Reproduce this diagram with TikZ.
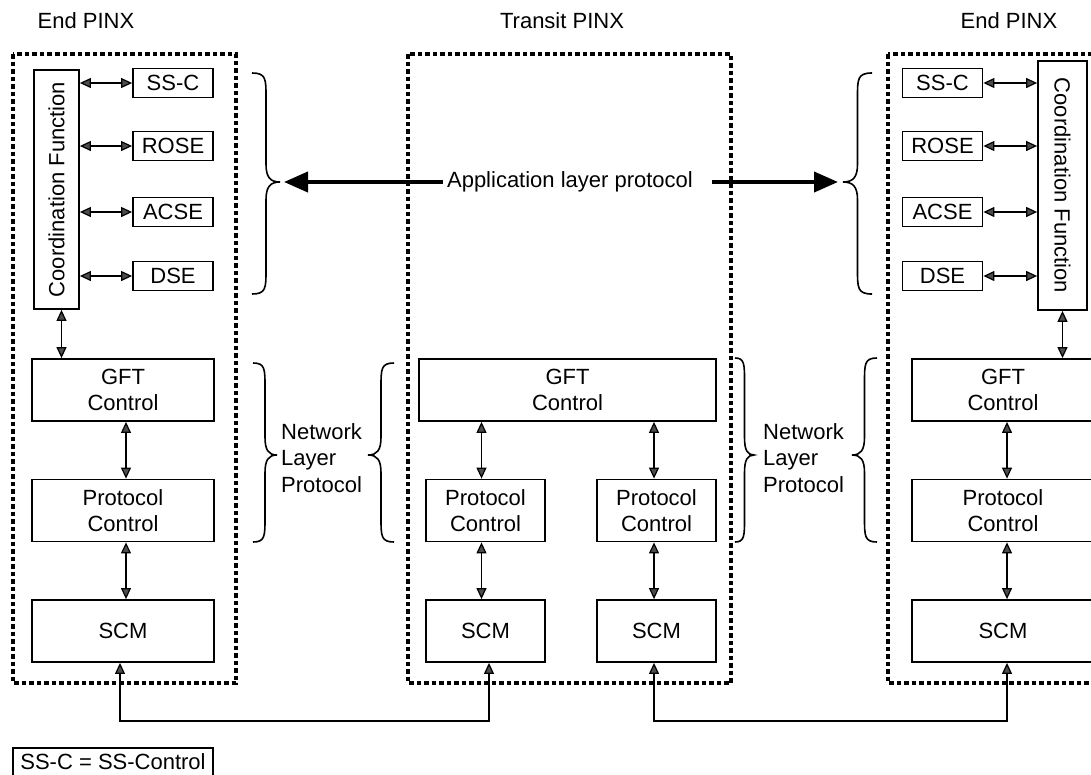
\documentclass[tikz,border=0pt]{standalone}
\usepackage{fontspec}
\setmainfont{Liberation Sans}
\usetikzlibrary{arrows.meta}
\newcommand\cbrace[5]{% #1 ends x, #2 tip x, #3 top y, #4 bottom y, #5 tip y
  \pgfmathsetmacro\bm{(#1+#2)/2}%
  \pgfmathsetmacro\bo{(#2-#1)/7}%
  \draw[bracestyle] (#1,#3) .. controls ({\bm},{#3}) and ({\bm},{#3+6}) .. ({\bm},{#3+24})
    -- ({\bm},{#5-18}) .. controls ({\bm},{#5-5}) and ({\bm+\bo},{#5}) .. (#2,#5)
    .. controls ({\bm+\bo},{#5}) and ({\bm},{#5+5}) .. ({\bm},{#5+18})
    -- ({\bm},{#4-24}) .. controls ({\bm},{#4-6}) and ({\bm},{#4}) .. (#1,#4);}
\begin{document}
\begin{tikzpicture}[x=1pt,y=-1pt,
  every node/.style={font=\fontsize{22}{26.5}\selectfont, inner sep=0pt},
  box/.style={draw, line width=1.8pt, align=center},
  small/.style={box, minimum width=80pt, minimum height=29pt},
  tall/.style={box, minimum height=62pt},
  frame/.style={line width=4.5pt, dash pattern=on 4.5pt off 3pt},
  link/.style={line width=1.8pt,
    {Triangle[length=11pt,width=10pt,fill=black!70,line width=1.2pt]}-{Triangle[length=11pt,width=10pt,fill=black!70,line width=1.2pt]}},
  bigarrow/.style={line width=4pt, -{Triangle[length=24pt,width=20pt]}},
  bracestyle/.style={line width=1.6pt}]
\useasboundingbox (0,0) rectangle (1091,774);

% frames
\draw[frame] (13,54) rectangle (236,683);
\draw[frame] (408,54) rectangle (731,683);
\draw[frame] (888,54) rectangle (1100,683);

% titles
\node (t1) at (86,21) {End PINX};
\node (t2) at (562,21) {Transit PINX};
\node (t3) at (1009,21) {End PINX};

% left end PINX
\node[box, minimum width=45pt, minimum height=239pt] (lcf) at (56.5,189.5) {\rotatebox{90}{Coordination Function}};
\node[small] (lssc) at (173,83) {SS-C};
\node[small] (lrose) at (173,146) {ROSE};
\node[small] (lacse) at (173,212) {ACSE};
\node[small] (ldse) at (173,276) {DSE};
\draw[link] (lcf.east |- lssc) -- (lssc.west);
\draw[link] (lcf.east |- lrose) -- (lrose.west);
\draw[link] (lcf.east |- lacse) -- (lacse.west);
\draw[link] (lcf.east |- ldse) -- (ldse.west);
\node[tall, minimum width=182pt] (lgft) at (123,390) {GFT\\Control};
\node[tall, minimum width=182pt] (lpc) at (123,510.5) {Protocol\\Control};
\node[tall, minimum width=182pt] (lscm) at (123,631) {SCM};
\draw[link] ([xshift=5pt]lcf.south) -- ([xshift=5pt]lcf.south |- lgft.north);
\draw[link] ([xshift=3pt]lgft.south) -- ([xshift=3pt]lpc.north);
\draw[link] ([xshift=3pt]lpc.south) -- ([xshift=3pt]lscm.north);

% transit PINX
\node[tall, minimum width=297pt] (mgft) at (567.5,390) {GFT\\Control};
\node[tall, minimum width=119pt] (mpc1) at (485.5,510.5) {Protocol\\Control};
\node[tall, minimum width=119pt] (mpc2) at (656.5,510.5) {Protocol\\Control};
\node[tall, minimum width=119pt] (mscm1) at (485.5,631) {SCM};
\node[tall, minimum width=119pt] (mscm2) at (656.5,631) {SCM};
\draw[link] ([xshift=-4pt]mpc1.north |- mgft.south) -- ([xshift=-4pt]mpc1.north);
\draw[link] ([xshift=-2.5pt]mpc2.north |- mgft.south) -- ([xshift=-2.5pt]mpc2.north);
\draw[link] ([xshift=-4pt]mpc1.south) -- ([xshift=-4pt]mscm1.north);
\draw[link] ([xshift=-2.5pt]mpc2.south) -- ([xshift=-2.5pt]mscm2.north);

% right end PINX
\node[box, minimum width=49pt, minimum height=249pt] (rcf) at (1062.5,185.5) {\rotatebox{-90}{Coordination Function}};
\node[small] (rssc) at (942.5,83) {SS-C};
\node[small] (rrose) at (942.5,146) {ROSE};
\node[small] (racse) at (942.5,212) {ACSE};
\node[small] (rdse) at (942.5,276) {DSE};
\draw[link] (rssc.east) -- (rcf.west |- rssc);
\draw[link] (rrose.east) -- (rcf.west |- rrose);
\draw[link] (racse.east) -- (rcf.west |- racse);
\draw[link] (rdse.east) -- (rcf.west |- rdse);
\node[tall, minimum width=182pt] (rgft) at (1003,390) {GFT\\Control};
\node[tall, minimum width=182pt] (rpc) at (1003,510.5) {Protocol\\Control};
\node[tall, minimum width=182pt] (rscm) at (1003,631) {SCM};
\draw[link] (rcf.south) -- (rcf.south |- rgft.north);
\draw[link] ([xshift=4pt]rgft.south) -- ([xshift=4pt]rpc.north);
\draw[link] ([xshift=4pt]rpc.south) -- ([xshift=4pt]rscm.north);

% SCM interconnections
\draw[link] ([xshift=-3pt]lscm.south) -- ++(0,58) -| ([xshift=3.5pt]mscm1.south);
\draw[link] ([xshift=-2.5pt]mscm2.south) -- ++(0,58) -| ([xshift=4pt]rscm.south);

% application layer protocol
\node (app) at (570,182) {Application layer protocol};
\coordinate (ltip) at (284,182);
\coordinate (rtip) at (838,182);
\draw[bigarrow] ([xshift=-4pt]app.west) -- (ltip);
\draw[bigarrow] ([xshift=19pt]app.east) -- (rtip);

% network layer protocol
\node[align=left, anchor=west] (nl1) at (281,458) {Network\\Layer\\Protocol};
\node[align=left, anchor=west] (nl2) at (763,458) {Network\\Layer\\Protocol};

% braces
\cbrace{252}{280}{73}{294}{182}
\cbrace{872}{843}{73}{294}{182}
\cbrace{253}{277}{363}{542}{455}
\cbrace{394}{368}{363}{542}{455}
\cbrace{735}{754}{358}{542}{455}
\cbrace{877}{852}{358}{542}{455}

% legend
\node[box, minimum width=200pt, text height=15.5pt, text depth=0pt, inner ysep=6.5pt, anchor=north] (legend) at (113,747) {SS-C = SS-Control};
\end{tikzpicture}
\end{document}
